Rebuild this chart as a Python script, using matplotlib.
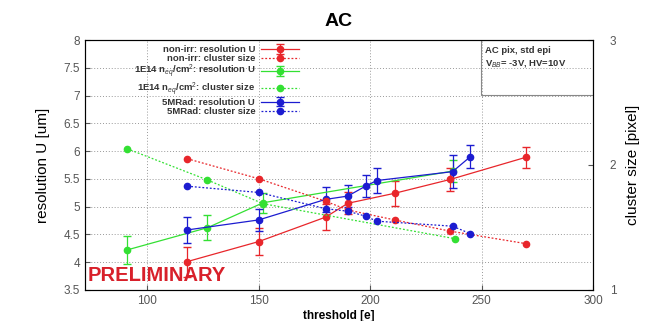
import numpy as np
import matplotlib
matplotlib.use("Agg")
import matplotlib.pyplot as plt

plt.rcParams["font.family"] = ["Liberation Sans", "DejaVu Sans"]
plt.rcParams["mathtext.fontset"] = "custom"
plt.rcParams["mathtext.rm"] = "Liberation Sans"
plt.rcParams["mathtext.it"] = "Liberation Sans:italic"
plt.rcParams["mathtext.bf"] = "Liberation Sans:bold"

# resolution U [um] vs threshold [e]
thr_nonirr_res = [118, 150, 180, 190, 211, 236, 270]
res_nonirr = [4.01, 4.37, 4.81, 5.06, 5.24, 5.49, 5.89]
err_nonirr = [0.27, 0.24, 0.24, 0.20, 0.22, 0.20, 0.19]

thr_1e14_res = [91, 127, 152, 237]
res_1e14 = [4.22, 4.62, 5.07, 5.64]
err_1e14 = [0.25, 0.23, 0.18, 0.20]

thr_5mrad_res = [118, 150, 180, 190, 198, 203, 237, 245]
res_5mrad = [4.58, 4.76, 5.13, 5.19, 5.37, 5.47, 5.63, 5.90]
err_5mrad = [0.23, 0.20, 0.22, 0.20, 0.20, 0.23, 0.30, 0.21]

# cluster size [pixel] vs threshold [e]
thr_nonirr_cl = [118, 150, 180, 190, 211, 236, 270]
cl_nonirr = [2.05, 1.89, 1.71, 1.64, 1.56, 1.47, 1.37]

thr_1e14_cl = [91, 127, 152, 238]
cl_1e14 = [2.13, 1.88, 1.69, 1.41]

thr_5mrad_cl = [118, 150, 180, 190, 198, 203, 237, 245]
cl_5mrad = [1.83, 1.78, 1.65, 1.63, 1.59, 1.55, 1.51, 1.45]

red = "#e8262b"
green = "#33e033"
blue = "#1c1cd0"

fig = plt.figure(figsize=(6.48, 3.21), dpi=100)
ax = fig.add_axes([0.131, 0.097, 0.784, 0.778])
ax2 = ax.twinx()

handles = []
series = [
    (thr_nonirr_res, res_nonirr, err_nonirr, thr_nonirr_cl, cl_nonirr, red, "non-irr"),
    (thr_1e14_res, res_1e14, err_1e14, thr_1e14_cl, cl_1e14, green, r"1E14 n$_{eq}$/cm$^2$"),
    (thr_5mrad_res, res_5mrad, err_5mrad, thr_5mrad_cl, cl_5mrad, blue, "5MRad"),
]
for xr, yr, er, xc, yc, col, name in series:
    h1 = ax.errorbar(xr, yr, yerr=er, color=col, marker="o", ms=4.5, lw=0.9,
                     elinewidth=0.9, capsize=3, label=name + ": resolution U")
    h2, = ax2.plot(xc, yc, color=col, marker="o", ms=4.5, lw=0.9,
                   linestyle=(0, (1.5, 1.5)), label=name + ": cluster size")
    handles += [h1, h2]

ax.set_xlim(72, 300)
ax.set_ylim(3.5, 8)
ax2.set_ylim(1, 3)
ax.set_xticks([100, 150, 200, 250, 300])
ax.set_yticks(np.arange(3.5, 8.01, 0.5))
ax.set_yticklabels(["3.5", "4", "4.5", "5", "5.5", "6", "6.5", "7", "7.5", "8"])
ax2.set_yticks([1, 2, 3])
ax.grid(True, color="#999999", linestyle=(0, (1, 2)), linewidth=0.7)
ax.tick_params(labelsize=8.5, colors="#555555", direction="in")
ax2.tick_params(labelsize=8.5, colors="#555555", direction="in", pad=12)
for sp in ax.spines.values():
    sp.set_color("#333333")

ax.set_xlabel("threshold [e]", fontsize=8.5, fontweight="bold", labelpad=2)
ax.set_ylabel("resolution U [um]", fontsize=11, labelpad=10)
ax2.set_ylabel("cluster size [pixel]", fontsize=11, labelpad=7)
ax.set_title("AC", fontsize=14, fontweight="bold", pad=10)

leg = ax.legend(handles=handles, loc="upper right", bbox_to_anchor=(0.43, 1.0),
                markerfirst=False, frameon=False,
                prop={"weight": "bold", "size": 6.8}, handlelength=4.0,
                handleheight=0.5, labelspacing=0.0, borderaxespad=0.2,
                borderpad=0.3, handletextpad=0.6)
for t in leg.get_texts():
    t.set_color("#333333")

ax.text(0.788, 0.975, "AC pix, std epi\n" + r"V$_{BB}$= -3V, HV=10V",
        transform=ax.transAxes, fontsize=6.8, va="top", ha="left",
        color="#333333", fontweight="bold", linespacing=1.3)
ax.add_patch(plt.Rectangle((0.78, 0.78), 0.22, 0.22, transform=ax.transAxes,
                           fill=False, edgecolor="#888888", lw=0.8))

ax.text(0.006, 0.02, "PRELIMINARY", transform=ax.transAxes, fontsize=14.5,
        fontweight="bold", color="#d8202a", va="bottom", ha="left")

fig.savefig("out.png", dpi=100)
